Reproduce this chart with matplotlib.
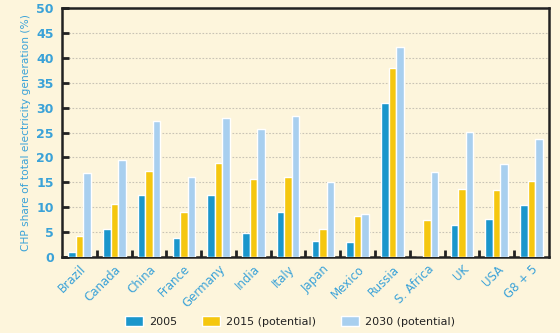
import matplotlib
matplotlib.use("Agg")
import matplotlib.pyplot as plt
import numpy as np

categories = ["Brazil", "Canada", "China", "France", "Germany", "India", "Italy",
              "Japan", "Mexico", "Russia", "S. Africa", "UK", "USA", "G8 + 5"]
v2005 = [1.1, 5.7, 12.5, 3.9, 12.5, 4.8, 9.0, 3.2, 3.1, 31.0, 0.0, 6.4, 7.7, 10.5]
v2015 = [4.2, 10.7, 17.2, 9.0, 18.8, 15.7, 16.1, 5.6, 8.2, 38.0, 7.5, 13.6, 13.4, 15.3]
v2030 = [16.8, 19.4, 27.3, 16.1, 27.9, 25.7, 28.4, 15.0, 8.6, 42.2, 17.0, 25.1, 18.6, 23.7]
series_labels = ["2005", "2015 (potential)", "2030 (potential)"]

bg = "#FDF5DC"
blue_txt = "#3AA2D8"
colors = ["#1A96CC", "#F5C70F", "#A8CFEF"]

fig = plt.figure(figsize=(5.6, 3.33), dpi=100, facecolor=bg)
ax = fig.add_axes([0.111, 0.228, 0.869, 0.748], facecolor=bg)

x = np.arange(len(categories))
w = 0.215
for i, (vals, c, lab) in enumerate(zip([v2005, v2015, v2030], colors, series_labels)):
    ax.bar(x + (i - 1) * w, vals, width=w, color=c, edgecolor="white",
           linewidth=1.0, label=lab, zorder=3)

ax.set_xlim(-0.5, len(categories) - 0.5)
ax.set_ylim(0, 50)
ax.set_yticks(np.arange(0, 51, 5))
ax.yaxis.grid(True, linestyle=(0, (1.5, 1.5)), color="#C8C3B5", linewidth=0.8, zorder=0)
ax.set_axisbelow(True)

ax.set_xticks(x)
ax.set_xticklabels(categories, rotation=45, ha="right", rotation_mode="anchor",
                   color=blue_txt, fontsize=8.5)
ax.tick_params(axis="x", which="major", length=0, pad=4)
ax.set_xticks(np.arange(0.5, len(categories) - 1, 1.0), minor=True)
ax.tick_params(axis="x", which="minor", direction="in", length=5, width=2, color="#222222")
ax.tick_params(axis="y", direction="in", length=5, width=2, color="#222222",
               labelcolor=blue_txt, labelsize=9, pad=6)
for t in ax.get_yticklabels():
    t.set_fontweight("bold")

for s in ax.spines.values():
    s.set_linewidth(1.8)
    s.set_color("#222222")

ax.set_ylabel("CHP share of total electricity generation (%)", color=blue_txt, fontsize=7.7)

leg = fig.legend(loc="lower center", bbox_to_anchor=(0.518, -0.012), ncol=3, frameon=False,
                 fontsize=8, handlelength=1.6, handleheight=1.0, columnspacing=2.2,
                 handletextpad=0.6)
for t in leg.get_texts():
    t.set_color("#222222")

fig.savefig("out.png", dpi=100, facecolor=bg)
